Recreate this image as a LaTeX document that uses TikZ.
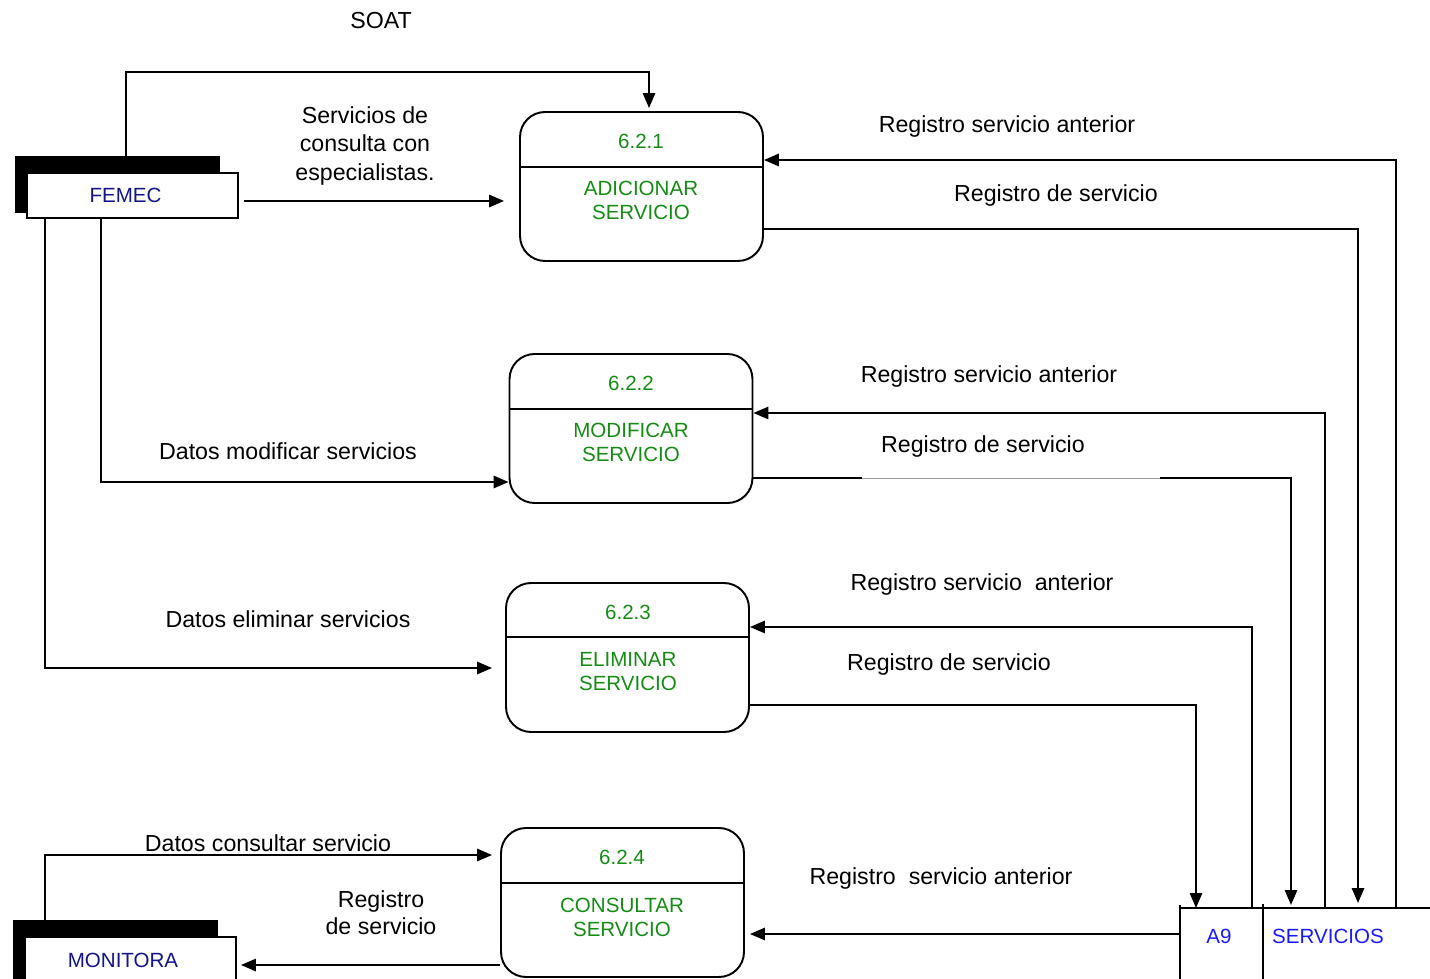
\documentclass[tikz,border=0pt]{standalone}
\usepackage{fontspec}
\setmainfont{Liberation Sans}
\usetikzlibrary{arrows.meta}
\definecolor{pgreen}{RGB}{20,140,20}
\definecolor{enavy}{RGB}{20,20,140}
\definecolor{sblue}{RGB}{25,25,255}
\begin{document}
\begin{tikzpicture}[x=0.02cm,y=-0.02cm,
 flow/.style={line width=1.1pt,-{Triangle[length=8.5pt,width=7pt]}},
 ln/.style={line width=1.1pt},
 lbl/.style={font=\fontsize{13.2}{15.5}\selectfont, align=center, inner sep=0pt, yshift=-0.05cm},
 proc/.style={draw, line width=1.1pt, rounded corners=0.5cm, minimum width=4.86cm, minimum height=2.98cm, inner sep=0pt},
 ptxt/.style={text=pgreen, font=\fontsize{11.7}{13.6}\selectfont, align=center, inner sep=0pt},
 ent/.style={draw, fill=white, line width=1.1pt, minimum width=4.22cm, inner sep=0pt, text=enavy, font=\fontsize{11.7}{13.6}\selectfont},
 shad/.style={fill=black, minimum width=4.1cm, inner sep=0pt, anchor=north west},
 stxt/.style={text=sblue, font=\fontsize{11.7}{13.6}\selectfont, inner sep=0pt},
 ]
\useasboundingbox (0,0) rectangle (1430,979);
\clip (0,0) rectangle (1430,979);

% processes
\node[proc] (p1) at (641.5,186.5) {};
\draw[ln] ([yshift=-1.12cm]p1.north west) -- ([yshift=-1.12cm]p1.north east);
\node[ptxt] (n1) at (641,141) {6.2.1};
\node[ptxt] (t1) at (641,200) {ADICIONAR\\SERVICIO};

\node[proc] (p2) at (631,428.5) {};
\draw[ln] ([yshift=-1.12cm]p2.north west) -- ([yshift=-1.12cm]p2.north east);
\node[ptxt] (n2) at (631,383) {6.2.2};
\node[ptxt] (t2) at (631,442.5) {MODIFICAR\\SERVICIO};

\node[proc] (p3) at (627.5,657.5) {};
\draw[ln] ([yshift=-1.1cm]p3.north west) -- ([yshift=-1.1cm]p3.north east);
\node[ptxt] (n3) at (628,612) {6.2.3};
\node[ptxt] (t3) at (628,671.5) {ELIMINAR\\SERVICIO};

\node[proc] (p4) at (622.5,902.5) {};
\draw[ln] ([yshift=-1.12cm]p4.north west) -- ([yshift=-1.12cm]p4.north east);
\node[ptxt] (n4) at (622,857) {6.2.4};
\node[ptxt] (t4) at (622,917) {CONSULTAR\\SERVICIO};

% entities
\node[shad, minimum height=1.14cm] (femecsh) at (15,156) {};
\node[ent, minimum height=0.9cm] (femec) at (132.5,195.5) {FEMEC\hspace*{0.28cm}};
\node[shad, minimum height=1.4cm] (monsh) at (13,920) {};
\node[ent, minimum height=1.3cm, anchor=north] (mon) at (130.5,936) {};
\node[inner sep=0pt, text=enavy, font=\fontsize{11.7}{13.6}\selectfont] (montxt) at (123,960) {MONITORA};

% data store
\coordinate (st) at (1180,908);
\draw[ln] (1180,990) -- (1180,905);
\draw[ln] (st) -- (1440,908);
\draw[ln] (1263,904) -- (1263,990);
\node[stxt] (a9) at (1219,936) {A9};
\node[stxt] (serv) at (1328,936) {SERVICIOS};

% connectors left
\draw[flow, shorten >=0.06cm] (femecsh.north -| 126,0) |- (649,72) -- (p1.north -| 649,0);
\draw[flow, shorten <=0.1cm, shorten >=0.3cm] (femec.east |- 0,201) -- (p1.west |- 0,201);
\draw[flow] (femec.south -| 101,0) |- (p2.west |- 0,482);
\draw[flow, shorten >=0.26cm] (femec.south -| 45,0) |- (p3.west |- 0,668);
\draw[flow, shorten >=0.16cm] (monsh.north -| 45,0) |- (p4.west |- 0,855);
\draw[flow, shorten >=0.08cm] (p4.west |- 0,965) -- (mon.east |- 0,965);

% connectors right
\draw[flow] (st -| 1396,0) |- (p1.east |- 0,160);
\draw[flow, shorten >=0.1cm] (p1.east |- 0,229) -| (st -| 1358,0);
\draw[flow] (st -| 1325,0) |- (p2.east |- 0,413);
\draw[flow, shorten >=0.06cm] (p2.east |- 0,478) -| (st -| 1291,0);
\draw[white, line width=1.3pt] (862,478) -- (1160,478);
\draw[gray!80, line width=0.5pt] (862,478) -- (1160,478);
\draw[flow] (st -| 1252,0) |- (p3.east |- 0,627);
\draw[flow] (p3.east |- 0,705) -| (st -| 1196,0);
\draw[flow, shorten >=0.1cm] (st |- 0,934) -- (p4.east |- 0,934);

% labels
\node[lbl] (soat) at (381,18) {SOAT};
\node[lbl, font=\fontsize{13.2}{16.2}\selectfont] (l1) at (365,143.5) {Servicios de\\consulta con\\especialistas.};
\node[lbl] (l2) at (288,449) {Datos modificar servicios};
\node[lbl] (l3) at (288,617) {Datos eliminar servicios};
\node[lbl] (l4) at (268,841) {Datos consultar servicio};
\node[lbl, font=\fontsize{13.2}{15.3}\selectfont] (l5) at (381,910.5) {Registro\\de servicio};
\node[lbl] (r1a) at (1007,124) {Registro servicio anterior};
\node[lbl] (r1b) at (1056,193) {Registro de servicio};
\node[lbl] (r2a) at (989,374) {Registro servicio anterior};
\node[lbl] (r2b) at (983,444) {Registro de servicio};
\node[lbl] (r3a) at (982,582) {Registro servicio\ \ anterior};
\node[lbl] (r3b) at (949,662) {Registro de servicio};
\node[lbl] (r4a) at (941,876) {Registro\ \ servicio anterior};
\end{tikzpicture}
\end{document}
